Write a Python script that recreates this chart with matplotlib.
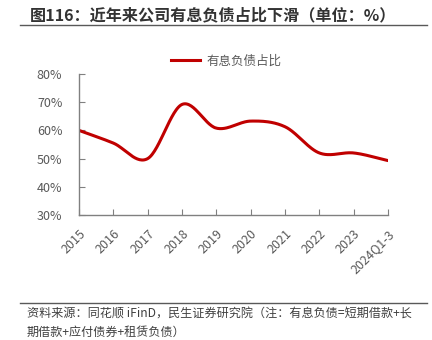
import numpy as np
import matplotlib.pyplot as plt
from matplotlib.lines import Line2D

plt.rcParams['font.family'] = ['Noto Sans CJK SC', 'DejaVu Sans']

years = ["2015", "2016", "2017", "2018", "2019", "2020", "2021", "2022", "2023", "2024Q1-3"]
debt_ratio = [60.0, 55.5, 50.0, 69.2, 60.8, 63.3, 61.3, 52.0, 52.0, 49.3]

title = "图116：近年来公司有息负债占比下滑（单位：%）"
series_name = "有息负债占比"
source_note = "资料来源：同花顺 iFinD，民生证券研究院（注：有息负债=短期借款+长\n期借款+应付债券+租赁负债）"

grey = "#595959"
red = "#C00000"


# excel-like smoothed line (catmull-rom through the points)
def smooth(x, y, n=30):
    x = np.asarray(x, float)
    y = np.asarray(y, float)
    px = np.concatenate([[2 * x[0] - x[1]], x, [2 * x[-1] - x[-2]]])
    py = np.concatenate([[2 * y[0] - y[1]], y, [2 * y[-1] - y[-2]]])
    xs, ys = [], []
    for i in range(1, len(px) - 2):
        t = np.linspace(0, 1, n, endpoint=False)
        for p, out in ((px, xs), (py, ys)):
            p0, p1, p2, p3 = p[i - 1], p[i], p[i + 1], p[i + 2]
            out.extend(0.5 * ((2 * p1) + (-p0 + p2) * t
                              + (2 * p0 - 5 * p1 + 4 * p2 - p3) * t ** 2
                              + (-p0 + 3 * p1 - 3 * p2 + p3) * t ** 3))
    xs.append(x[-1])
    ys.append(y[-1])
    return np.array(xs), np.array(ys)


fig = plt.figure(figsize=(4.32, 3.4), dpi=100)
ax = fig.add_axes([79 / 432, 1 - 215 / 340, (388 - 79) / 432, (215 - 74) / 340])

xpos = np.arange(len(years))
sx, sy = smooth(xpos, debt_ratio)
ax.plot(sx, sy, color=red, lw=2.2, solid_capstyle='round')

ax.set_xlim(0, len(years) - 1)
ax.set_ylim(30, 80)
ax.set_yticks(range(30, 81, 10))
ax.set_yticklabels([f"{v}%" for v in range(30, 81, 10)])
ax.set_xticks(xpos)
ax.set_xticklabels(years, rotation=45, ha='right', rotation_mode='anchor')

for s in ['top', 'right']:
    ax.spines[s].set_visible(False)
for s in ['left', 'bottom']:
    ax.spines[s].set_color('#808080')
    ax.spines[s].set_linewidth(1.0)
ax.tick_params(axis='both', direction='in', length=4, color='#808080', colors=grey, labelsize=9)
ax.tick_params(axis='y', pad=12)
ax.tick_params(axis='x', pad=9)
for lbl in ax.get_xticklabels():
    lbl.set_color(grey)

handle = Line2D([0], [0], color=red, lw=2.2)
fig.legend([handle], [series_name], loc='center', bbox_to_anchor=(226 / 432, 1 - 61 / 340),
           frameon=False, fontsize=9, labelcolor=grey, handlelength=2.3, handletextpad=0.5)

# title and separators
fig.text(30 / 432, 1 - 15 / 340, title, fontsize=11.6, fontweight='bold', color='#333333',
         va='center', ha='left')
fig.add_artist(Line2D([20 / 432, 427 / 432], [1 - 25 / 340, 1 - 25 / 340], color='#595959', lw=1.0))
fig.add_artist(Line2D([20 / 432, 427 / 432], [1 - 303 / 340, 1 - 303 / 340], color='#595959', lw=1.0))
fig.text(27 / 432, 1 - 308 / 340, source_note, fontsize=8.7, color='#404040',
         va='top', ha='left', linespacing=1.5)

fig.savefig("out.png", dpi=100)
